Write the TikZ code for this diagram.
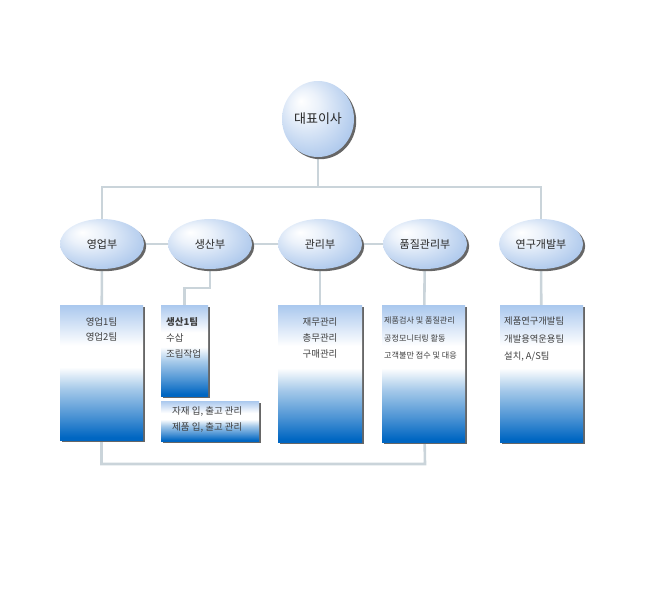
\documentclass[tikz,border=0pt]{standalone}
\usepackage{fontspec}
\setmainfont{Noto Sans CJK KR}
\usetikzlibrary{shapes.geometric,shadows,backgrounds}
\definecolor{linegray}{RGB}{202,212,218}
\definecolor{ellblue}{RGB}{155,188,232}
\definecolor{boxtop}{RGB}{170,200,238}
\definecolor{boxbot}{RGB}{0,102,194}
\definecolor{txtgray}{RGB}{62,62,62}
\pgfdeclareradialshading{orgball}{\pgfpoint{-12bp}{12bp}}{color(0bp)=(white);
  color(10bp)=(white!80!ellblue); color(38bp)=(ellblue); color(50bp)=(ellblue)}
\pgfdeclareverticalshading{orgbox}{100bp}{color(0bp)=(boxbot); color(26bp)=(boxbot);
  color(34bp)=(boxbot!70!white); color(44bp)=(boxbot!35!white); color(52bp)=(white);
  color(60bp)=(white); color(75bp)=(boxtop); color(100bp)=(boxtop)}
\tikzset{
  dept/.style={ellipse, shading=orgball, inner sep=0pt,
    minimum width=84pt, minimum height=50pt, text=black!85,
    drop shadow={shadow xshift=2.2pt, shadow yshift=-2.2pt, fill=black!60, opacity=1},
    font=\fontsize{11}{13}\selectfont},
  team/.style={rectangle, shading=orgbox, inner sep=0pt,
    drop shadow={shadow xshift=1.8pt, shadow yshift=-1.8pt, fill=black!60, opacity=1}},
  teamtext/.style={inner sep=0pt, text=txtgray, align=left, anchor=north west,
    font=\fontsize{9.5}{16}\selectfont},
  link/.style={draw=linegray, line width=2.6pt}
}
\begin{document}
\begin{tikzpicture}[x=1pt,y=-1pt]
  \useasboundingbox (0,0) rectangle (650,589);
  % organisation
  \path
    (318,119) node[dept, minimum width=72pt, minimum height=76pt,
      font=\fontsize{13}{15}\selectfont] (ceo){대표이사}
    (102,244) node[dept] (sales){영업부}
    (210,244) node[dept] (prod){생산부}
    (320,244) node[dept] (admin){관리부}
    (425,244) node[dept] (quality){품질관리부}
    (541,244) node[dept] (rnd){연구개발부};
  \path
    (101.5,372.5) node[team, minimum width=83pt, minimum height=135pt] (salesbox){}
    (184.5,350.5) node[team, minimum width=47pt, minimum height=91pt] (prodbox){}
    (210,421) node[team, minimum width=98pt, minimum height=40pt] (stockbox){}
    (320,373.5) node[team, minimum width=84pt, minimum height=137pt] (adminbox){}
    (423.5,373.5) node[team, minimum width=83pt, minimum height=137pt] (qualbox){}
    (541.5,373.5) node[team, minimum width=83pt, minimum height=137pt] (rndbox){};
  \coordinate (bar) at (0,187);
  \coordinate (low) at (0,464);
  % team texts
  \node[teamtext, anchor=north, align=center, font=\fontsize{9.5}{15}\selectfont]
    (salestext) at (101.5,317) {영업1팀\\영업2팀};
  \node[teamtext] (prodtext) at (166,317) {\textbf{생산1팀}\\수삽\\조립작업};
  \node[teamtext] (stocktext) at (172,406) {자재 입, 출고 관리\\제품 입, 출고 관리};
  \node[teamtext, anchor=north, align=center] (admintext) at (320,317) {재무관리\\총무관리\\구매관리};
  \node[teamtext, font=\fontsize{8.1}{17.5}\selectfont] (qualtext) at (384,317)
    {제품검사 및 품질관리\\공정모니터링 활동\\고객불만 접수 및 대응};
  \node[teamtext, font=\fontsize{9.3}{17.5}\selectfont] (rndtext) at (504,317)
    {제품연구개발팀\\개발용역운용팀\\설치, A/S팀};
  \begin{scope}[on background layer]
  \begin{scope}[link]
    \draw (ceo) -- (ceo |- bar);
    \draw (sales) |- (rnd |- bar) -- (rnd);
    \draw (sales) -- (prod);
    \draw (prod) -- (admin);
    \draw (admin) -- (quality);
    \draw (sales) -- (salesbox);
    \draw (prod) -- ++(0,44) -| (prodbox);
    \draw (admin) -- (adminbox);
    \draw (quality) -- (qualbox);
    \draw (rnd) -- (rndbox);
    \draw (salesbox) |- (low -| quality) -- (qualbox);
  \end{scope}
  \end{scope}
\end{tikzpicture}
\end{document}
